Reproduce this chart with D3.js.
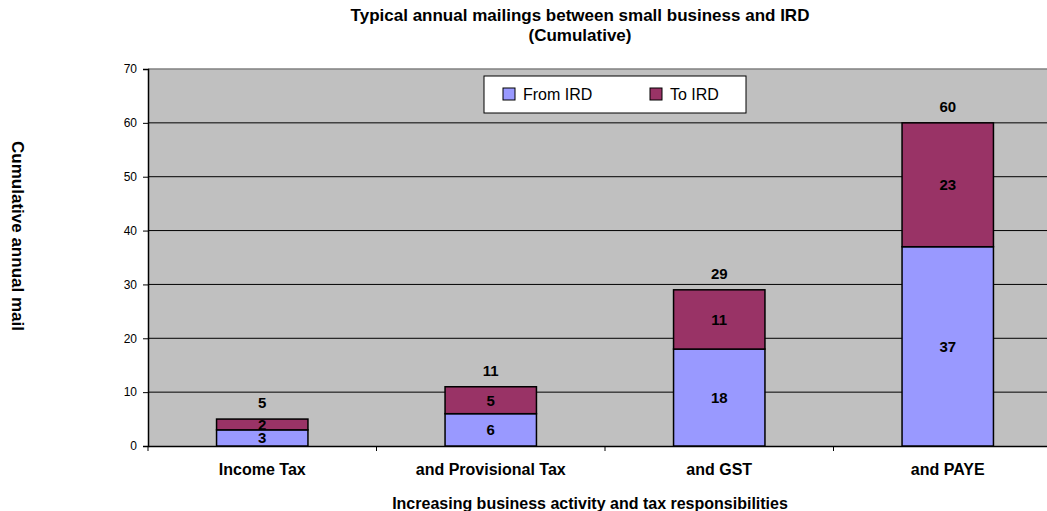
<!DOCTYPE html>
<html>
<head>
<meta charset="utf-8">
<script src="https://cdn.jsdelivr.net/npm/d3@7"></script>
<style>
  body { margin: 0; background: #fff; }
  text { font-family: "Liberation Sans", Arial, sans-serif; }
</style>
</head>
<body>
<script>
var categories = ["Income Tax", "and Provisional Tax", "and GST", "and PAYE"];
var fromIRD = [3, 6, 18, 37];
var toIRD = [2, 5, 11, 23];
var yTicks = [0, 10, 20, 30, 40, 50, 60, 70];
var seriesNames = ["From IRD", "To IRD"];
var seriesColors = ["#9999ff", "#993366"];

var rows = categories.map(function(c, i){
    return {cat: c, from: fromIRD[i], to: toIRD[i]};
});

var svg = d3.select("body").append("svg")
            .attr("width", 1047)
            .attr("height", 511);

// window.top is read-only, so use other names
var plotL = 148, plotT = 69, plotB = 446, plotR = 1062;

var x = d3.scaleBand().domain(categories).range([plotL, plotR]).paddingInner(0.6).paddingOuter(0.3);
var xTicks = d3.scaleBand().domain(categories).range([plotL, plotR]);
var y = d3.scaleLinear().domain([0, 70]).range([plotB, plotT]);

// plot background
svg.append("rect")
    .attr("x", plotL).attr("y", plotT)
    .attr("width", plotR - plotL).attr("height", plotB - plotT)
    .attr("fill", "#c0c0c0");

// gridlines
svg.selectAll("line.grid")
    .data(yTicks.filter(function(d){return d > 0}))
    .enter().append("line")
    .attr("class", "grid")
    .attr("x1", plotL).attr("x2", plotR)
    .attr("y1", function(d){return y(d)}).attr("y2", function(d){return y(d)})
    .attr("stroke", function(d){return d == 70 ? "#808080" : "#000"})
    .attr("stroke-width", function(d){return d == 70 ? 1.5 : 1});

// y axis
var yAxis = svg.append("g")
    .attr("transform", "translate(" + plotL + ",0)")
    .call(d3.axisLeft(y).tickValues(yTicks).tickSize(5).tickPadding(6));
yAxis.select(".domain").attr("stroke", "#000").attr("stroke-width", 1.5);
yAxis.selectAll("text").attr("font-size", 12).attr("fill", "#000")
    .style("font-family", "'Liberation Sans', Arial, sans-serif");

// x axis
var xAxis = svg.append("g")
    .attr("transform", "translate(0," + plotB + ")")
    .call(d3.axisBottom(xTicks).tickSize(0).tickPadding(18));
xAxis.select(".domain").attr("stroke", "#000").attr("stroke-width", 1.5);
xAxis.selectAll("text").attr("font-size", 16).attr("font-weight", "bold").attr("fill", "#000")
    .style("font-family", "'Liberation Sans', Arial, sans-serif");
// tick marks between categories
xAxis.selectAll("line.sep")
    .data(categories)
    .enter().append("line")
    .attr("class", "sep")
    .attr("x1", function(d){return xTicks(d)}).attr("x2", function(d){return xTicks(d)})
    .attr("y1", 0).attr("y2", 5)
    .attr("stroke", "#000");

// bars
var bars = svg.selectAll("g.bar")
    .data(rows)
    .enter().append("g")
    .attr("class", "bar");

bars.append("rect")
    .attr("x", function(d){return x(d.cat)})
    .attr("y", function(d){return y(d.from)})
    .attr("width", x.bandwidth())
    .attr("height", function(d){return y(0) - y(d.from)})
    .attr("fill", seriesColors[0])
    .attr("stroke", "#000").attr("stroke-width", 1.5);

bars.append("rect")
    .attr("x", function(d){return x(d.cat)})
    .attr("y", function(d){return y(d.from + d.to)})
    .attr("width", x.bandwidth())
    .attr("height", function(d){return y(d.from) - y(d.from + d.to)})
    .attr("fill", seriesColors[1])
    .attr("stroke", "#000").attr("stroke-width", 1.5);

// value labels
bars.append("text")
    .attr("x", function(d){return x(d.cat) + x.bandwidth() / 2})
    .attr("y", function(d){return y(d.from / 2) + 5.5})
    .attr("text-anchor", "middle").attr("font-size", 15).attr("font-weight", "bold")
    .text(function(d){return d.from});

bars.append("text")
    .attr("x", function(d){return x(d.cat) + x.bandwidth() / 2})
    .attr("y", function(d){return y(d.from + d.to / 2) + 5.5})
    .attr("text-anchor", "middle").attr("font-size", 15).attr("font-weight", "bold")
    .text(function(d){return d.to});

bars.append("text")
    .attr("x", function(d){return x(d.cat) + x.bandwidth() / 2})
    .attr("y", function(d){return y(d.from + d.to) - 11})
    .attr("text-anchor", "middle").attr("font-size", 15).attr("font-weight", "bold")
    .text(function(d){return d.from + d.to});

// legend
var legend = svg.append("g").attr("transform", "translate(484,76)");
legend.append("rect")
    .attr("width", 262).attr("height", 37)
    .attr("fill", "#fff").attr("stroke", "#000");
var items = legend.selectAll("g.item")
    .data(seriesNames)
    .enter().append("g")
    .attr("class", "item")
    .attr("transform", function(d, i){return "translate(" + (i == 0 ? 19 : 166) + ",12)"});
items.append("rect")
    .attr("width", 12).attr("height", 12)
    .attr("fill", function(d, i){return seriesColors[i]})
    .attr("stroke", "#000");
items.append("text")
    .attr("x", 20).attr("y", 12)
    .attr("font-size", 16)
    .text(function(d){return d});

// titles
svg.append("text")
    .attr("x", 580).attr("y", 21)
    .attr("text-anchor", "middle").attr("font-size", 17).attr("font-weight", "bold")
    .text("Typical annual mailings between small business and IRD");
svg.append("text")
    .attr("x", 580).attr("y", 41)
    .attr("text-anchor", "middle").attr("font-size", 17).attr("font-weight", "bold")
    .text("(Cumulative)");

svg.append("text")
    .attr("x", 590).attr("y", 509)
    .attr("text-anchor", "middle").attr("font-size", 16).attr("font-weight", "bold")
    .text("Increasing business activity and tax responsibilities");

svg.append("text")
    .attr("transform", "translate(12,236) rotate(90)")
    .attr("text-anchor", "middle").attr("font-size", 17).attr("font-weight", "bold")
    .text("Cumulative annual mail");
</script>
</body>
</html>
